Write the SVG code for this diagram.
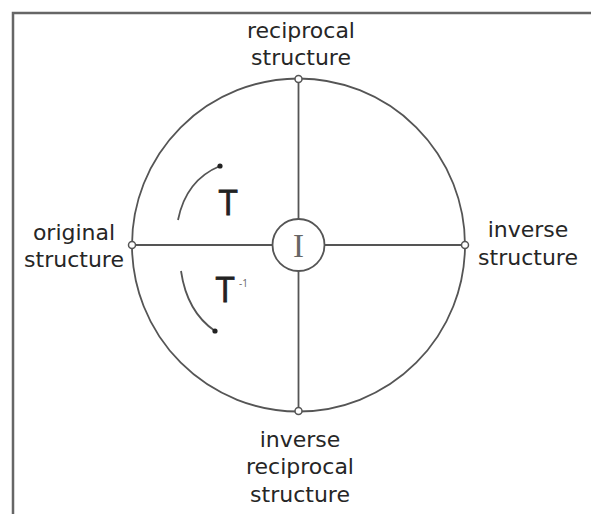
<svg xmlns="http://www.w3.org/2000/svg" width="591" height="514" viewBox="0 0 591 514">
<style>
.lbl{font-family:"DejaVu Sans","Open Sans",sans-serif;font-size:22px;fill:#262626;text-anchor:middle}
.ln{stroke:#555;stroke-width:1.8;fill:none}
.nd{fill:#fff;stroke:#555;stroke-width:1.5}
.big{font-family:"Open Sans","Liberation Sans",sans-serif;font-size:34px;fill:#222;stroke:#222;stroke-width:0.8;text-anchor:middle}
</style>
<rect width="591" height="514" fill="#fff"/>
<path d="M13,514 V13 H591" fill="none" stroke="#666" stroke-width="2.5"/>
<g id="connectors">
<circle class="ln" cx="298.5" cy="245" r="166.5"/>
<line class="ln" x1="132" y1="245" x2="272.5" y2="245"/>
<line class="ln" x1="324.5" y1="245" x2="465" y2="245"/>
<line class="ln" x1="298.5" y1="79" x2="298.5" y2="219"/>
<line class="ln" x1="298.5" y1="271" x2="298.5" y2="411"/>
<path class="ln" d="M178,220 Q186,180 220,166"/>
<circle cx="220" cy="166" r="2.6" fill="#222"/>
<path class="ln" d="M181,271 Q187,312 215,331"/>
<circle cx="215" cy="331" r="2.6" fill="#222"/>
</g>
<g id="center">
<circle class="ln" cx="298.5" cy="245" r="26"/>
<text x="298.5" y="257" font-family="'Liberation Serif',serif" font-size="33" fill="#666" text-anchor="middle">I</text>
</g>
<g id="reciprocal">
<circle class="nd" cx="298.5" cy="79" r="3.5"/>
<text class="lbl" x="301" y="38">reciprocal</text>
<text class="lbl" x="301" y="64.5">structure</text>
</g>
<g id="original">
<circle class="nd" cx="132" cy="245" r="3.5"/>
<text class="lbl" x="74" y="240">original</text>
<text class="lbl" x="74" y="267">structure</text>
</g>
<g id="inverse">
<circle class="nd" cx="465" cy="245" r="3.5"/>
<text class="lbl" x="528" y="237">inverse</text>
<text class="lbl" x="528" y="265">structure</text>
</g>
<g id="invrecip">
<circle class="nd" cx="298.5" cy="411" r="3.5"/>
<text class="lbl" x="300" y="447">inverse</text>
<text class="lbl" x="300" y="474">reciprocal</text>
<text class="lbl" x="300" y="502">structure</text>
</g>
<g id="labels">
<text class="big" x="228" y="215">T</text>
<text class="big" x="225" y="302">T</text>
<text x="239" y="287" font-family="'Open Sans','Liberation Sans',sans-serif" font-size="10" fill="#666">-1</text>
</g>
</svg>
